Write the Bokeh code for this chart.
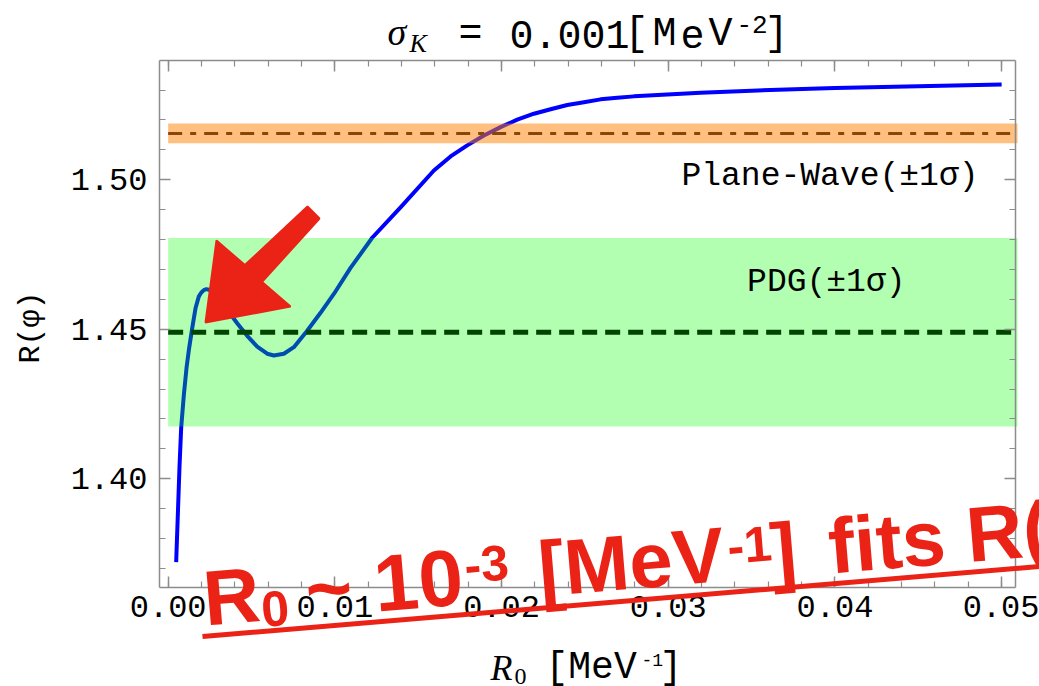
import numpy as np
from bokeh.plotting import figure
from bokeh.models import Range1d, LinearAxis, FixedTicker, Label, NumeralTickFormatter, Arrow
from bokeh.embed import file_html
from bokeh.resources import INLINE

# R(phi) as a function of R0 for sigma_K = 0.001 MeV^-2
r0 = [0.00048, 0.00058, 0.00068, 0.00078, 0.00094, 0.00110, 0.00124, 0.00144,
      0.00164, 0.00184, 0.00199, 0.00214, 0.00229, 0.00244, 0.00259, 0.00274,
      0.00314, 0.00354, 0.00414, 0.00474, 0.00534, 0.00594, 0.00634, 0.00694,
      0.00754, 0.00834, 0.00914, 0.00994, 0.01094, 0.01224, 0.01394, 0.01594,
      0.01694, 0.01794, 0.01894, 0.01994, 0.02094, 0.02194, 0.02294, 0.02394,
      0.02494, 0.02594, 0.02694, 0.02794, 0.03194, 0.03500, 0.04000, 0.04500,
      0.05000]
r_phi = [1.3721, 1.3880, 1.4040, 1.4170, 1.4280, 1.4370, 1.4430, 1.4503,
         1.4570, 1.4610, 1.4623, 1.4631, 1.4634, 1.4632, 1.4628, 1.4620,
         1.4595, 1.4565, 1.4520, 1.4478, 1.4442, 1.4418, 1.4412, 1.4418,
         1.4440, 1.4495, 1.4555, 1.4618, 1.4705, 1.4806, 1.4908, 1.5031,
         1.5078, 1.5115, 1.5148, 1.5176, 1.5201, 1.5221, 1.5236, 1.5250,
         1.5259, 1.5269, 1.5274, 1.5279, 1.5291, 1.5298, 1.5307, 1.5313,
         1.5319]

# reference values (central value and 1 sigma)
pdg_value, pdg_err = 1.449, 0.0315
pw_value, pw_err = 1.5155, 0.0033

x_major = [0.00, 0.01, 0.02, 0.03, 0.04, 0.05]
y_major = [1.40, 1.45, 1.50]

# plotting box in data units and its place on the page
X0, X1 = -0.00052, 0.05083
Y0, Y1 = 1.3636, 1.5399
W, H = 1039, 686
FL, FR, FT, FB = 159, 1015, 60, 587

XPX = (X1 - X0) / (FR - FL)
YPX = (Y1 - Y0) / (FB - FT)

RED = "#ea2316"
MONO = "Liberation Mono"
GREY = "#8c8c8c"


def dx(px):
    return X0 + (px - FL) * XPX


def dy(py):
    return Y1 - (py - FT) * YPX


# the canvas covers the whole page so that titles and notes can sit around the box
p = figure(width=W, height=H,
           x_range=Range1d(dx(0), dx(W)), y_range=Range1d(dy(H), dy(0)),
           x_axis_type=None, y_axis_type=None,
           output_backend="svg", toolbar_location=None,
           min_border=0, min_border_left=0, min_border_right=0,
           min_border_top=0, min_border_bottom=0)
p.grid.visible = False
p.outline_line_color = None
p.background_fill_color = "white"
p.border_fill_color = "white"

x_minor = [round(v, 4) for v in np.arange(0.0, 0.0509, 0.002)]
y_minor = [round(v, 3) for v in np.arange(1.37, 1.5351, 0.01)]

ax_below = LinearAxis(fixed_location=Y0, bounds=(X0, X1))
ax_above = LinearAxis(fixed_location=Y1, bounds=(X0, X1))
ax_left = LinearAxis(fixed_location=X0, bounds=(Y0, Y1))
ax_right = LinearAxis(fixed_location=X1, bounds=(Y0, Y1))
p.add_layout(ax_below, "below")
p.add_layout(ax_above, "above")
p.add_layout(ax_left, "left")
p.add_layout(ax_right, "right")

for ax in (ax_below, ax_above):
    ax.ticker = FixedTicker(ticks=x_major, minor_ticks=x_minor)
for ax in (ax_left, ax_right):
    ax.ticker = FixedTicker(ticks=y_major, minor_ticks=y_minor)

for ax in (ax_below, ax_above, ax_left, ax_right):
    ax.formatter = NumeralTickFormatter(format="0.00")
    ax.axis_line_color = GREY
    ax.axis_line_width = 1.5
    ax.major_tick_in = 11
    ax.major_tick_out = 0
    ax.minor_tick_in = 6
    ax.minor_tick_out = 0
    ax.major_tick_line_color = GREY
    ax.minor_tick_line_color = GREY
    ax.major_tick_line_width = 1.5
    ax.minor_tick_line_width = 1.2
    ax.major_label_text_font = MONO
    ax.major_label_text_font_size = "32px"
    ax.major_label_text_color = "black"

ax_below.major_label_standoff = 8
ax_left.major_label_standoff = 12
# the top and right edges carry ticks only
ax_above.major_label_overrides = {v: " " for v in x_major}
ax_right.major_label_overrides = {v: " " for v in y_major}
for ax in (ax_above, ax_right):
    ax.major_label_standoff = 0

# model curve
p.line(r0, r_phi, line_color="#0000ff", line_width=4, line_join="round")

# 1-sigma bands, translucent over the curve
band_right = dx(1017)
p.quad(left=0.0, right=band_right, bottom=pdg_value - pdg_err, top=pdg_value + pdg_err,
       fill_color="#00ff00", fill_alpha=0.3, line_color=None)
p.quad(left=0.0, right=band_right, bottom=pw_value - pw_err, top=pw_value + pw_err,
       fill_color="#ff8000", fill_alpha=0.5, line_color=None)

# central values
p.line([0.0, band_right], [pdg_value, pdg_value],
       line_color="#004400", line_width=5, line_dash="15 8")
p.line([0.0, band_right], [pw_value, pw_value],
       line_color="#8a4608", line_width=3, line_dash="14 8 6 8")


def put(text, px, py, size, font=MONO, style="normal", color="black", angle=0.0,
        align="left"):
    # (px, py) is the left/centre point of the baseline; labels sit about
    # a third of an em below that anchor, so move the anchor up along the text
    shift = 0.32 * size
    ax_ = px - shift * np.sin(angle)
    ay_ = py - shift * np.cos(angle)
    p.add_layout(Label(x=dx(ax_), y=dy(ay_), text=text, text_font=font,
                       text_font_size=f"{size}px", text_font_style=style,
                       text_color=color, angle=angle, text_align=align,
                       text_baseline="alphabetic"))


# band captions
put("Plane-Wave(±1σ)", 978, 187, 33, align="right")
put("PDG(±1σ)", 905, 293, 33, align="right")

# title: sigma_K = 0.001 [MeV^-2]
put("σ", 387, 44, 38, font="Liberation Serif", style="italic")
put("K", 409, 51, 26, font="Liberation Serif", style="italic")
put("=", 458, 47, 40)
put("0.001", 509, 47, 40)
put("[", 624, 47, 40)
put("M", 652, 47, 40)
put("e", 680, 47, 40)
put("V", 708, 47, 40)
put("-2", 736, 32, 26)
put("]", 764, 47, 40)

# axis titles
put("R(φ)", 40, 327, 30, angle=np.pi / 2, align="center")
put("R", 490, 679, 36, font="Liberation Serif", style="italic")
put("0", 514, 684, 24, font="Liberation Serif")
put("[MeV", 545, 679, 38)
put("-1", 641, 665, 18)
put("]", 659, 679, 38)

# hand-drawn style arrow pointing at the first maximum
arrow_px = [(205, 322), (290, 306), (261.6, 281.4), (319, 218), (307, 206),
            (244.4, 264.6), (216, 240)]
p.patch([dx(a) for a, b in arrow_px], [dy(b) for a, b in arrow_px],
        fill_color=RED, line_color=RED, line_width=2)

# red remark, tilted
tilt = np.arctan2(636 - 566, 1039 - 202)
pieces = [("R", 205, 623, 78), ("0", 262, 625, 50), ("~ 10", 307, 615, 80),
          ("-3", 465, 581, 50), ("[MeV", 540, 594, 78), ("-1", 728, 562, 50),
          ("]", 772, 576, 78), ("fits R(", 830, 571, 78)]
for txt, px, py, size in pieces:
    put(txt, px, py, size, font="Liberation Sans", style="bold", color=RED, angle=tilt)

p.add_layout(Arrow(end=None, x_start=dx(202), y_start=dy(636), x_end=dx(1045),
                   y_end=dy(565.5), line_color=RED, line_width=5))

open("out.html", "w").write(file_html(p, INLINE))
